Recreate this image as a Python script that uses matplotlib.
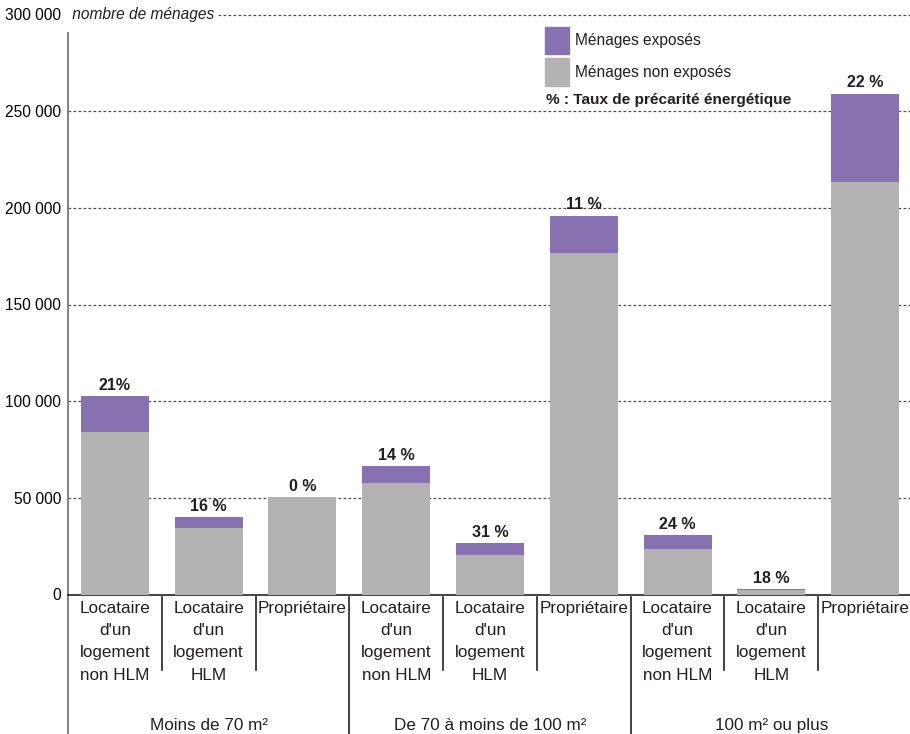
# -*- coding: utf-8 -*-
""" Ménages exposés à la précarité énergétique, par surface et statut """
import matplotlib
matplotlib.use("Agg")
import matplotlib.pyplot as plt
from matplotlib.lines import Line2D
from matplotlib.patches import Rectangle

# housing status inside each surface group
statuts = [
    "Locataire\nd'un\nlogement\nnon HLM",
    "Locataire\nd'un\nlogement\nHLM",
    "Propriétaire",
] * 3
groupes = ["Moins de 70 m²", "De 70 à moins de 100 m²", "100 m² ou plus"]

# households, stacked: non exposed at the bottom, exposed on top
non_exposes = [84200, 34600, 50500, 57800, 20400, 176800, 23500, 2300, 213400]
exposes = [18600, 5500, 0, 8800, 6200, 19200, 7300, 500, 45700]
taux = ["21%", "16 %", "0 %", "14 %", "31 %", "11 %", "24 %", "18 %", "22 %"]

yticks = [0, 50000, 100000, 150000, 200000, 250000, 300000]

VIOLET = "#8771b0"
GRIS = "#b3b3b3"
TEXTE = "#231f20"

plt.rcParams["font.family"] = ["Liberation Sans", "DejaVu Sans"]
plt.rcParams["text.color"] = TEXTE

W, H = 910, 734
fig = plt.figure(figsize=(W / 100, H / 100), dpi=100)
# axes frame in pixels: x 68..912, y 14.5..594.5
ax = fig.add_axes([68 / W, (H - 594.5) / H, 844 / W, 580 / H])

x = list(range(len(statuts)))
ax.bar(x, non_exposes, width=0.725, color=GRIS, zorder=3)
ax.bar(x, exposes, width=0.725, bottom=non_exposes, color=VIOLET, zorder=3)

ax.set_xlim(-0.5, len(statuts) - 0.5)
ax.set_ylim(0, 300000)
for side in ("left", "right", "top"):
    ax.spines[side].set_visible(False)
ax.spines["bottom"].set_linewidth(1.2)
ax.spines["bottom"].set_color("#222222")
ax.set_xticks([])
ax.set_yticks(yticks)
ax.set_yticklabels(["{:,}".format(v).replace(",", " ") for v in yticks],
                   fontsize=11.2)
ax.tick_params(axis="y", length=0, pad=5)

# dashed guide lines (the top one leaves room for the unit)
for v in yticks[1:-1]:
    ax.axhline(v, color="#4d4d4d", lw=0.9, ls=(0, (2.2, 1.8)), zorder=1)
ax.axhline(yticks[-1], xmin=(218 - 68) / 844, color="#4d4d4d", lw=0.9,
           ls=(0, (2.2, 1.8)), zorder=1, clip_on=False)
ax.text(-0.5, yticks[-1], " nombre de ménages", style="italic",
        fontsize=11.2, va="center", ha="left")

# left axis line, running down through the category labels
ax.add_line(Line2D([-0.5, -0.5], [(594.5 - 33) / 580, -0.242],
                   transform=ax.get_xaxis_transform(), color="#777777",
                   lw=1.3, clip_on=False))

# separators under the axis: short between statuses, long between groups
for i in range(1, len(statuts)):
    bas = -0.242 if i % 3 == 0 else -0.13
    ax.add_line(Line2D([i - 0.5, i - 0.5], [-0.004, bas],
                       transform=ax.get_xaxis_transform(), color="#222222",
                       lw=1.2, clip_on=False))

for i, lab in enumerate(statuts):
    ax.text(i, -0.0105, lab, transform=ax.get_xaxis_transform(),
            ha="center", va="top", fontsize=12.3, linespacing=1.62)

for g, lab in enumerate(groupes):
    ax.text(3 * g + 1, -0.2265, lab, transform=ax.get_xaxis_transform(),
            ha="center", va="center", fontsize=12.3)

# energy poverty rate above each bar
for i, (a, b, t) in enumerate(zip(non_exposes, exposes, taux)):
    ax.annotate(t, (i, a + b), xytext=(0, 7.7), textcoords="offset points",
                ha="center", va="center", fontweight="bold",
                fontsize=11.5, zorder=4)

# legend block, top right
for k, (col, lab) in enumerate([(VIOLET, "Ménages exposés"),
                                (GRIS, "Ménages non exposés")]):
    top = 26.5 + 31.5 * k
    fig.patches.append(Rectangle((545 / W, 1 - (top + 27.5) / H),
                                 24 / W, 27.5 / H, color=col,
                                 transform=fig.transFigure))
    fig.text(575 / W, 1 - (top + 14) / H, lab, fontsize=11.2, va="center")
fig.text(546 / W, 1 - 100 / H, "% : Taux de précarité énergétique",
         fontsize=11.1, fontweight="bold", va="center")

fig.savefig("out.png", dpi=100)
